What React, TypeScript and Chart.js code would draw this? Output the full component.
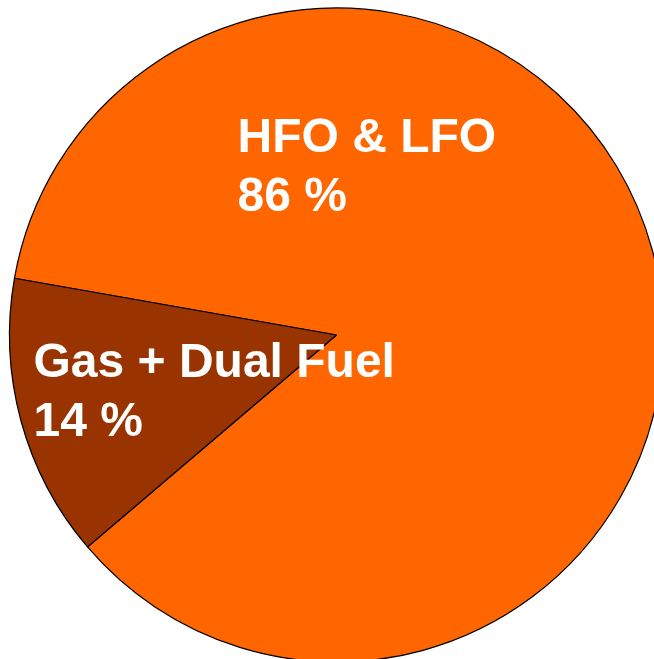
import React, { useEffect, useRef } from "react";
import { Chart, registerables } from "chart.js";

Chart.register(...registerables);

const categories = ["HFO & LFO", "Gas + Dual Fuel"];
const shares = [86, 14];
const shareLabels = ["86 %", "14 %"];
const sliceColors = ["#FF6600", "#993300"];

const labelPlugin = {
  id: "sliceLabels",
  afterDatasetsDraw(chart: any) {
    const meta = chart.getDatasetMeta(0);
    const arc = meta.data[0];
    if (!arc) return;
    const cx = arc.x;
    const cy = arc.y;
    const ctx = chart.ctx;
    ctx.save();
    ctx.fillStyle = "#FFFFFF";
    ctx.font = "bold 48px 'Liberation Sans', Arial, sans-serif";
    ctx.textBaseline = "alphabetic";
    ctx.textAlign = "left";
    // offsets relative to pie centre
    const offsets = [
      [-99, -183],
      [-303, 42],
    ];
    offsets.forEach((o, i) => {
      ctx.fillText(categories[i], cx + o[0], cy + o[1]);
      ctx.fillText(shareLabels[i], cx + o[0], cy + o[1] + 59);
    });
    ctx.restore();
  },
};

export default function App() {
  const ref = useRef<HTMLCanvasElement | null>(null);
  useEffect(() => {
    document.body.style.margin = "0";
    document.body.style.overflow = "hidden";
    if (!ref.current) return;
    const chart = new Chart(ref.current, {
      type: "pie",
      data: {
        labels: categories,
        datasets: [
          {
            data: shares,
            backgroundColor: sliceColors,
            borderColor: "#000000",
            borderWidth: 1.2,
          },
        ],
      },
      options: {
        animation: false,
        responsive: false,
        rotation: 280,
        radius: 327,
        layout: { padding: { left: 19, top: 11, right: 0, bottom: 0 } },
        plugins: {
          legend: { display: false },
          tooltip: { enabled: false },
        },
      } as any,
      plugins: [labelPlugin],
    });
    return () => chart.destroy();
  }, []);
  return (
    <div style={{ position: "fixed", left: 0, top: 0, width: 654, height: 659, overflow: "hidden", background: "#fff" }}>
      <canvas ref={ref} width={654} height={659} style={{ width: 654, height: 659, display: "block" }} />
    </div>
  );
}
